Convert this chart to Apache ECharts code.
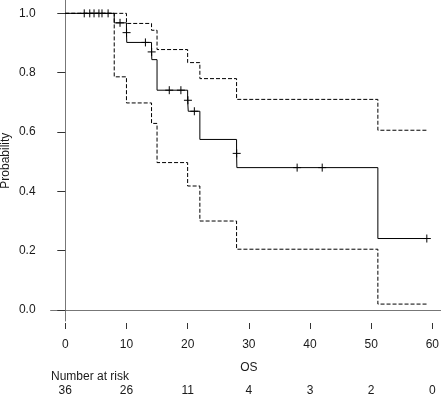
<!DOCTYPE html>
<html>
<head>
<meta charset="utf-8">
<script src="https://cdn.jsdelivr.net/npm/echarts@6/dist/echarts.min.js"></script>
<style>
html,body{margin:0;padding:0;background:#fff;}
#chart{width:441px;height:395px;}
</style>
</head>
<body>
<div id="chart"></div>
<script>
// Kaplan-Meier estimate (step function: value holds from each time onward)
const survTimes = [0, 8, 10, 10.05, 14.1, 14.15, 15, 20, 20.1, 22, 28, 28.05, 51.1, 59.1];
const survValues = [1, 0.968, 0.935, 0.902, 0.870, 0.844, 0.741, 0.707, 0.670, 0.575, 0.528, 0.480, 0.241, 0.241];

// Upper and lower confidence limits
const upperTimes = [0, 10, 14.1, 15, 20, 22, 28, 51.1, 59.1];
const upperValues = [1, 0.966, 0.943, 0.878, 0.834, 0.780, 0.710, 0.606, 0.606];
const lowerTimes = [0, 8, 10, 14.1, 15, 20, 22, 28, 51.1, 59.1];
const lowerValues = [1, 0.786, 0.698, 0.629, 0.497, 0.418, 0.300, 0.205, 0.020, 0.020];

// Censored observations
const censorTimes = [3.1, 4.0, 4.7, 5.5, 6.0, 7.0, 8.95, 10.02, 13.1, 14.12, 17.0, 18.9, 20.05, 21.1, 28.02, 37.9, 42.0, 59.1];
const censorValues = [1, 1, 1, 1, 1, 1, 0.968, 0.935, 0.902, 0.870, 0.741, 0.741, 0.707, 0.670, 0.528, 0.480, 0.480, 0.241];

// Axes
const xTicks = [0, 10, 20, 30, 40, 50, 60];
const yTicks = [0, 0.2, 0.4, 0.6, 0.8, 1.0];
const numberAtRisk = [36, 26, 11, 4, 3, 2, 0];

const zip = (a, b) => a.map((v, i) => [v, b[i]]);
const FONT = 'Liberation Sans, Arial, sans-serif';
const TXT = '#1a1a1a';
const xMin = -2.4, xMax = 62.4;

const chart = echarts.init(document.getElementById('chart'), null, {renderer: 'canvas'});
chart.setOption({
  animation: false,
  backgroundColor: '#fff',
  textStyle: {fontFamily: FONT},
  grid: {left: 50.6, top: 0.3, width: 396.4, height: 320.7, containLabel: false, outerBoundsMode: 'none'},
  xAxis: [
    { // frame line
      type: 'value', min: xMin, max: xMax, position: 'bottom',
      axisLine: {show: true, lineStyle: {color: '#777', width: 1}},
      axisTick: {show: false}, axisLabel: {show: false}, splitLine: {show: false}
    },
    { // ticks, labels and title
      type: 'value', min: xMin, max: xMax, position: 'bottom', offset: 2,
      axisLine: {show: false},
      axisTick: {show: true, length: 6, customValues: xTicks, lineStyle: {color: '#333'}},
      axisLabel: {show: true, customValues: xTicks, margin: 16, fontSize: 12, color: TXT, fontFamily: FONT},
      splitLine: {show: false},
      name: 'OS', nameLocation: 'middle', nameGap: 39, nameMoveOverlap: false,
      nameTextStyle: {fontSize: 12, color: TXT, fontFamily: FONT}
    },
    { // number at risk row
      type: 'value', min: xMin, max: xMax, position: 'bottom', offset: 0,
      axisLine: {show: false}, axisTick: {show: false}, splitLine: {show: false},
      axisLabel: {show: true, customValues: xTicks, margin: 64, fontSize: 12, color: TXT, fontFamily: FONT,
        formatter: v => String(numberAtRisk[xTicks.indexOf(v)])}
    }
  ],
  yAxis: {
    type: 'value', min: -0.037, max: 1.044,
    axisLine: {show: true, lineStyle: {color: '#777', width: 1}},
    axisTick: {show: true, length: 8, customValues: yTicks, lineStyle: {color: '#333'}},
    axisLabel: {show: true, customValues: yTicks, margin: 15, fontSize: 12, color: TXT, fontFamily: FONT,
      formatter: v => v.toFixed(1)},
    splitLine: {show: false},
    name: 'Probability', nameLocation: 'middle', nameGap: 39, nameRotate: 90, nameMoveOverlap: false,
    nameTextStyle: {fontSize: 12, color: TXT, fontFamily: FONT}
  },
  graphic: [{
    type: 'text', left: 51, top: 371,
    style: {text: 'Number at risk', font: '12px ' + FONT, fill: TXT}
  }],
  series: [
    {type: 'line', step: 'end', data: zip(upperTimes, upperValues), showSymbol: false, symbol: 'none',
      lineStyle: {color: '#000', width: 1, type: [4, 2]}, silent: true},
    {type: 'line', step: 'end', data: zip(lowerTimes, lowerValues), showSymbol: false, symbol: 'none',
      lineStyle: {color: '#000', width: 1, type: [4, 2]}, silent: true},
    {type: 'line', step: 'end', data: zip(survTimes, survValues), showSymbol: false, symbol: 'none',
      lineStyle: {color: '#000', width: 1}, silent: true},
    {type: 'custom', data: zip(censorTimes, censorValues), silent: true,
      renderItem: (params, api) => {
        const p = api.coord([api.value(0), api.value(1)]);
        const s = {stroke: '#000', lineWidth: 1};
        return {type: 'group', children: [
          {type: 'line', shape: {x1: p[0] - 4, y1: p[1], x2: p[0] + 4, y2: p[1]}, style: s},
          {type: 'line', shape: {x1: p[0], y1: p[1] - 4, x2: p[0], y2: p[1] + 4}, style: s}
        ]};
      }}
  ]
});
</script>
</body>
</html>
